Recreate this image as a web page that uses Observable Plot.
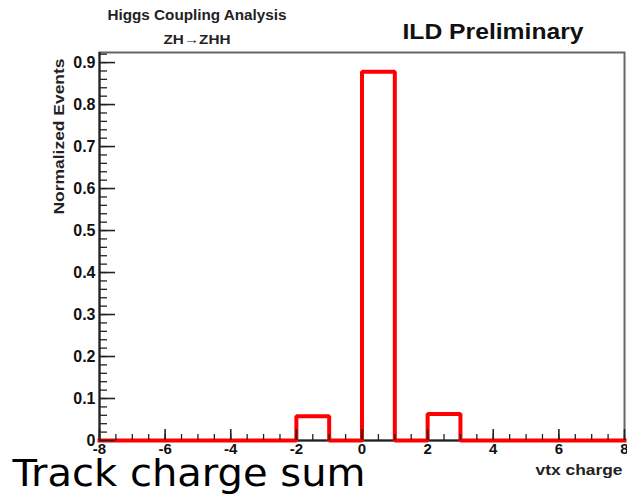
<!DOCTYPE html>
<html>
<head>
<meta charset="utf-8">
<script src="https://cdn.jsdelivr.net/npm/d3@7"></script>
<script src="https://cdn.jsdelivr.net/npm/@observablehq/plot@0.6"></script>
<style>
  html, body { margin: 0; padding: 0; background: #fff; }
</style>
</head>
<body>
<div id="wrap"></div>
<script>
// ---- data ----
const binEdges = [-8,-7,-6,-5,-4,-3,-2,-1,0,1,2,3,4,5,6,7,8];
const binValues = [0,0,0,0,0,0,0.058,0,0.878,0,0.063,0,0,0,0,0];
const xMajorTicks = [-8,-6,-4,-2,0,2,4,6,8];
const xMinorTicks = d3.range(-8, 8.001, 0.5);
const yMajorTicks = [0,0.1,0.2,0.3,0.4,0.5,0.6,0.7,0.8,0.9];
const yMinorTicks = d3.range(0, 0.9201, 0.02);
const yTickLabels = ["0","0.1","0.2","0.3","0.4","0.5","0.6","0.7","0.8","0.9"];
const titleTop = "Higgs Coupling Analysis";
const titleSub = "ZH\u2192ZHH";
const titleRight = "ILD Preliminary";
const yLabel = "Normalized Events";
const xLabel = "vtx charge";
const caption = "Track charge sum";

// layout
const W = 627, H = 498, mT = 52, mL = 99, mR = 3, mB = 58;
const xDom = [-8, 8], yDom = [0, 0.924];
const xPerPx = (xDom[1] - xDom[0]) / (W - mL - mR);
const yPerPx = (yDom[1] - yDom[0]) / (H - mT - mB);

// step points
const steps = binValues.map((v, i) => ({x: binEdges[i], y: v}));
steps.push({x: binEdges[binEdges.length - 1], y: binValues[binValues.length - 1]});

const bold = "Liberation Sans, Arial, sans-serif";
// text placed relative to the frame's top-left corner (mL, mT), centred on (px, py)
function label(txt, name, px, py, opts) {
  return Plot.text([txt], {
    text: d => d, frameAnchor: "top-left", dx: px - mL, dy: py - mT,
    textAnchor: "middle", lineAnchor: "middle",
    ariaLabel: () => name, fontFamily: bold, fontWeight: "bold", fill: "#111", ...opts
  });
}

const chart = Plot.plot({
  width: W,
  height: H,
  marginTop: mT,
  marginLeft: mL,
  marginRight: mR,
  marginBottom: mB,
  style: {fontFamily: bold, fontWeight: "bold", fontSize: "15px", background: "#fff", overflow: "visible"},
  x: {domain: xDom},
  y: {domain: yDom},
  marks: [
    Plot.frame({stroke: "#666", strokeWidth: 2}),
    Plot.ruleX([xDom[0]], {stroke: "#222", strokeWidth: 2}),
    Plot.ruleY([0], {stroke: "#222", strokeWidth: 2}),
    Plot.line(steps, {x: "x", y: "y", curve: "step-after", stroke: "#ff0000", strokeWidth: 4, strokeLinejoin: "miter", strokeLinecap: "square"}),
    // inward ticks
    Plot.ruleX(xMinorTicks, {x: d => d, y1: 0, y2: 6 * yPerPx, stroke: "#222", strokeWidth: 1.3}),
    Plot.ruleX(xMajorTicks, {x: d => d, y1: 0, y2: 11 * yPerPx, stroke: "#222", strokeWidth: 1.6}),
    Plot.ruleY(yMinorTicks, {y: d => d, x1: xDom[0], x2: xDom[0] + 8 * xPerPx, stroke: "#222", strokeWidth: 1.3}),
    Plot.ruleY(yMajorTicks, {y: d => d, x1: xDom[0], x2: xDom[0] + 16 * xPerPx, stroke: "#222", strokeWidth: 1.6}),
    // tick labels
    Plot.axisX({ticks: xMajorTicks, tickSize: 0, tickPadding: 3, tickFormat: d => String(d), label: null, fill: "#111", fontSize: 15}),
    Plot.axisY({ticks: yMajorTicks, tickSize: 0, tickPadding: 4, tickFormat: (d, i) => yTickLabels[i], label: null, fill: "#111", fontSize: 16}),
    // titles and labels
    label(titleTop, "title-top", 196.5, 15.5, {fontSize: 14, fill: "#222"}),
    label(titleSub, "title-sub", 196.5, 39.5, {fontSize: 13, fill: "#222"}),
    label(titleRight, "title-right", 492.5, 31, {fontSize: 22}),
    label(xLabel, "x-label", 578.5, 470.5, {fontSize: 14, fill: "#222"}),
    label(yLabel, "y-label", 59, 136, {fontSize: 15, fill: "#222", rotate: -90}),
    label(caption, "caption", 188.5, 473, {fontSize: 38, fontFamily: "DejaVu Sans, sans-serif", fontWeight: "normal", fill: "#000"})
  ]
});

// fit text widths to the reference
const fits = {"title-top": 179, "title-sub": 67, "title-right": 181, "x-label": 87, "y-label": 156, "caption": 353};
for (const [name, len] of Object.entries(fits)) {
  d3.select(chart).selectAll(`text[aria-label="${name}"], g[aria-label="${name}"] text`)
    .attr("textLength", len).attr("lengthAdjust", "spacingAndGlyphs");
}

document.getElementById("wrap").appendChild(chart);
</script>
</body>
</html>
